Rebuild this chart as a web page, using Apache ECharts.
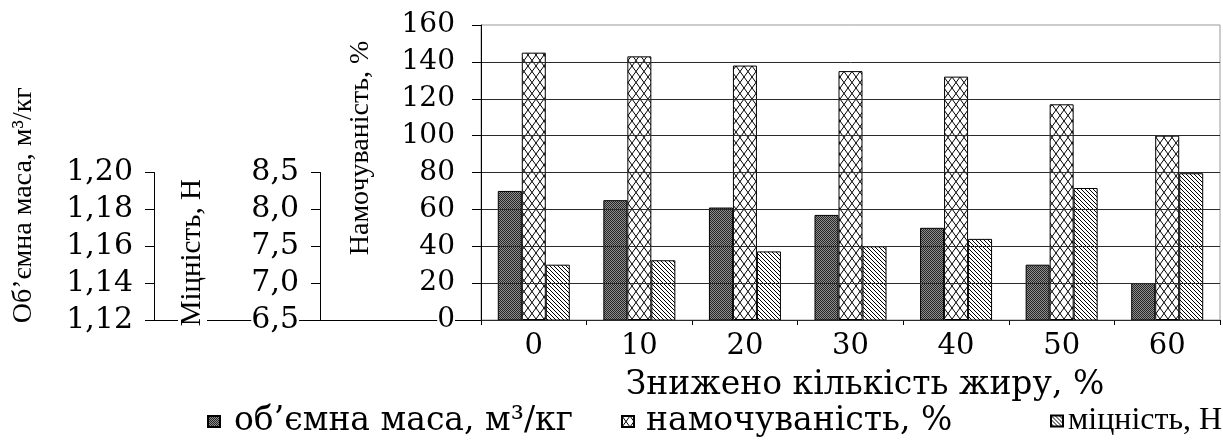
<!DOCTYPE html>
<html>
<head>
<meta charset="utf-8">
<script src="https://cdn.jsdelivr.net/npm/echarts@6/dist/echarts.min.js"></script>
<style>
html,body{margin:0;padding:0;background:#fff;overflow:hidden}
#c{width:1223px;height:442px}
</style>
</head>
<body>
<div id="c"></div>
<script>
// ---- data ----
const categories = ['0', '10', '20', '30', '40', '50', '60'];
const volumeMass = [1.190, 1.185, 1.181, 1.177, 1.170, 1.150, 1.140]; // м³/кг
const soaking = [145, 143, 138, 135, 132, 117, 100];                  // %
const strength = [7.25, 7.31, 7.43, 7.50, 7.60, 8.29, 8.49];          // Н
const seriesNames = ['об’ємна маса, м³/кг', 'намочуваність, %', 'міцність, Н'];
const xTitle = 'Знижено кількість жиру, %';
const yTitleSoak = 'Намочуваність, %';
const yTitleMass = 'Об’ємна маса, м³/кг';
const yTitleStrength = 'Міцність, Н';

// ---- fill patterns ----
function makeCanvas(w, h, draw) {
  const c = document.createElement('canvas');
  c.width = w; c.height = h;
  draw(c.getContext('2d'), w, h);
  return c;
}
const dotPat = makeCanvas(2, 2, (g) => {
  g.fillStyle = '#8e8e8e'; g.fillRect(0, 0, 2, 2);
  g.fillStyle = '#262626'; g.fillRect(0, 0, 1, 1); g.fillRect(1, 1, 1, 1);
});
const crossPat = makeCanvas(8, 11, (g, w, h) => {
  g.fillStyle = '#fff'; g.fillRect(0, 0, w, h);
  g.strokeStyle = '#000'; g.lineWidth = 1; g.beginPath();
  for (const dx of [-w, 0, w]) {
    g.moveTo(dx, 0); g.lineTo(dx + w, h);
    g.moveTo(dx + w, 0); g.lineTo(dx, h);
  }
  g.stroke();
});
const hatchPat = makeCanvas(4, 4, (g, w, h) => {
  g.fillStyle = '#fff'; g.fillRect(0, 0, w, h);
  g.strokeStyle = '#000'; g.lineWidth = 1; g.beginPath();
  for (const dx of [-w, 0, w]) { g.moveTo(dx, 0); g.lineTo(dx + w, h); }
  g.stroke();
});

const wide = '"DejaVu Serif", serif';
const serif = '"Liberation Serif", "Times New Roman", serif';
const black = '#000';
const comma = (d) => (v) => v.toFixed(d).replace('.', ',');

const chart = echarts.init(document.getElementById('c'));
chart.setOption({
  animation: false,
  backgroundColor: '#fff',
  grid: [
    { left: 481, top: 25, width: 739, height: 295, show: true, borderColor: '#999', borderWidth: 1, backgroundColor: 'transparent', outerBoundsMode: 'none' },
    { left: 154, top: 172.5, width: 166, height: 147.5, outerBoundsMode: 'none' },
    { left: 320, top: 172.5, width: 161, height: 147.5, outerBoundsMode: 'none' }
  ],
  legend: [
    { data: [seriesNames[0]], left: 207, top: 405, padding: 0, itemWidth: 12, itemHeight: 11, icon: 'rect',
      textStyle: { fontFamily: wide, fontSize: 33, color: black, padding: [0, 0, 0, 9] } },
    { data: [seriesNames[1]], left: 621, top: 405, padding: 0, itemWidth: 12, itemHeight: 11, icon: 'rect',
      textStyle: { fontFamily: wide, fontSize: 33, color: black, padding: [0, 0, 0, 7] } },
    { data: [seriesNames[2]], left: 1050, top: 405, padding: 0, itemWidth: 12, itemHeight: 11, icon: 'rect',
      textStyle: { fontFamily: serif, fontSize: 32, color: black } }
  ],
  xAxis: [
    { type: 'category', gridIndex: 0, data: categories, z: 3,
      axisLine: { show: true, lineStyle: { color: black, width: 1 } },
      axisTick: { show: true, length: 5, lineStyle: { color: black } },
      axisLabel: { margin: 12, fontFamily: wide, fontSize: 29, color: black },
      splitLine: { show: false },
      name: xTitle, nameLocation: 'middle', nameGap: 49,
      nameTextStyle: { fontFamily: wide, fontSize: 33, color: black, padding: [0, 0, 0, 29] } },
    { type: 'value', gridIndex: 1, min: 0, max: 1, z: 1,
      axisLine: { show: true, lineStyle: { color: black } }, axisTick: { show: false },
      axisLabel: { show: false }, splitLine: { show: false } },
    { type: 'value', gridIndex: 2, min: 0, max: 1, z: 1,
      axisLine: { show: true, lineStyle: { color: black } }, axisTick: { show: false },
      axisLabel: { show: false }, splitLine: { show: false } }
  ],
  yAxis: [
    { type: 'value', gridIndex: 0, min: 0, max: 160, interval: 20, z: 5,
      axisLine: { show: true, lineStyle: { color: black } },
      axisTick: { show: true, length: 9, lineStyle: { color: black } },
      axisLabel: { margin: 26, fontFamily: wide, fontSize: 28, color: black, backgroundColor: '#fff' },
      splitLine: { show: true, showMaxLine: false, lineStyle: { color: '#2a2a2a', width: 1 } },
      name: yTitleSoak, nameLocation: 'middle', nameGap: 106,
      nameTextStyle: { fontFamily: serif, fontSize: 28, color: black, padding: [0, 0, 0, 49] } },
    { type: 'value', gridIndex: 0, min: 1.12, max: 1.28, show: false },
    { type: 'value', gridIndex: 0, min: 6.5, max: 10.5, show: false },
    { type: 'value', gridIndex: 1, min: 1.12, max: 1.20, interval: 0.02, z: 5,
      axisLine: { show: true, lineStyle: { color: black } },
      axisTick: { show: true, length: 9, lineStyle: { color: black } },
      axisLabel: { margin: 21, fontFamily: wide, fontSize: 30, color: black, backgroundColor: '#fff', formatter: comma(2) },
      splitLine: { show: false },
      name: yTitleMass, nameLocation: 'middle', nameGap: 116,
      nameTextStyle: { fontFamily: serif, fontSize: 28, color: black, padding: [0, 0, 0, 82] } },
    { type: 'value', gridIndex: 1, min: 1.12, max: 1.20, interval: 0.02, z: 4,
      axisLine: { show: false }, axisTick: { show: true, inside: true, length: 8, lineStyle: { color: black } },
      axisLabel: { show: false }, splitLine: { show: false } },
    { type: 'value', gridIndex: 2, min: 6.5, max: 8.5, interval: 0.5, z: 5,
      axisLine: { show: true, lineStyle: { color: black } },
      axisTick: { show: true, length: 9, lineStyle: { color: black } },
      axisLabel: { margin: 21, fontFamily: wide, fontSize: 30, color: black, backgroundColor: '#fff', formatter: comma(1) },
      splitLine: { show: false },
      name: yTitleStrength, nameLocation: 'middle', nameGap: 113,
      nameTextStyle: { fontFamily: serif, fontSize: 29, color: black, backgroundColor: '#fff', padding: [0, 13, 0, 0] } },
    { type: 'value', gridIndex: 2, min: 6.5, max: 8.5, interval: 0.5, z: 4,
      axisLine: { show: false }, axisTick: { show: true, inside: true, length: 8, lineStyle: { color: black } },
      axisLabel: { show: false }, splitLine: { show: false } }
  ],
  series: [
    { name: seriesNames[0], type: 'bar', xAxisIndex: 0, yAxisIndex: 1, data: volumeMass,
      barWidth: 24, barGap: '0%',
      itemStyle: { color: { image: dotPat, repeat: 'repeat' }, borderColor: black, borderWidth: 1 } },
    { name: seriesNames[1], type: 'bar', xAxisIndex: 0, yAxisIndex: 0, data: soaking,
      barWidth: 24, barGap: '0%',
      itemStyle: { color: { image: crossPat, repeat: 'repeat' }, borderColor: black, borderWidth: 1 } },
    { name: seriesNames[2], type: 'bar', xAxisIndex: 0, yAxisIndex: 2, data: strength,
      barWidth: 24, barGap: '0%',
      itemStyle: { color: { image: hatchPat, repeat: 'repeat' }, borderColor: black, borderWidth: 1 } }
  ]
});
</script>
</body>
</html>
